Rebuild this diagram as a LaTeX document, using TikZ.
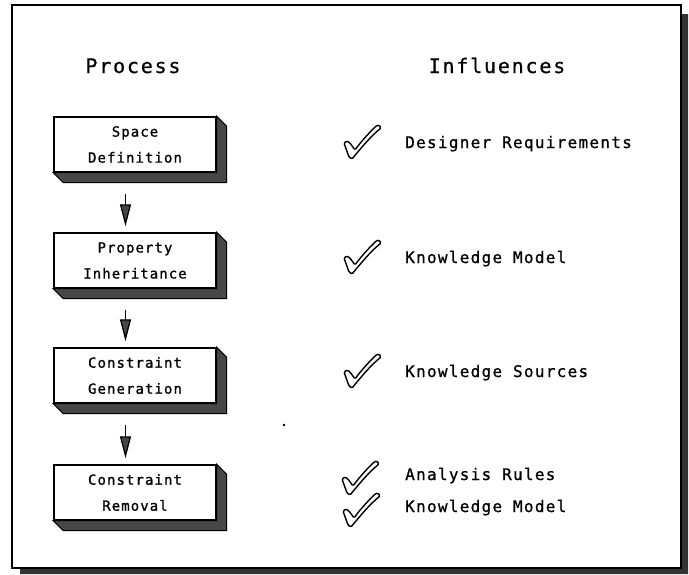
\documentclass[tikz,border=0pt]{standalone}
\usepackage{fontspec}
\usetikzlibrary{arrows.meta}
\newfontfamily\headfont[LetterSpace=9, FakeBold=0.6]{DejaVu Sans Mono}
\newfontfamily\infofont[LetterSpace=8, FakeBold=0.8]{DejaVu Sans Mono}
\newfontfamily\stepfont[LetterSpace=7.6, FakeBold=1]{DejaVu Sans Mono}

\tikzset{
  header/.style={anchor=base, inner sep=0pt,
    font=\headfont\fontsize{20}{20}\selectfont},
  influence/.style={anchor=base west, inner sep=0pt,
    font=\infofont\fontsize{16}{18}\selectfont},
  procbox/.style={draw=black, line width=1.4pt, fill=white,
    minimum width=162pt, minimum height=55pt, inner sep=0pt,
    align=center, font=\stepfont\fontsize{14}{26}\selectfont},
  boxshade/.style={draw=black, line width=1pt, fill=black!72},
  flow/.style={draw=black, line width=1.3pt,
    -{Triangle[length=22pt, width=11pt, fill=black!72]}},
  checkmark/.pic={
    \draw[line width=1.4pt, rounded corners=1.2pt, fill=white]
      (0,2) .. controls (10,-10) and (18,-20) .. (29,-29) -- (27,-32) -- (24,-31)
      .. controls (15,-22) and (8,-14) .. (3,-7)
      -- (-2,-14) -- (-5,-16) -- (-8,-14) -- (-3,0) -- cycle;
  }
}

\begin{document}
\begin{tikzpicture}[x=1pt, y=-1pt]
\useasboundingbox (0,0) rectangle (689,574);

% outer frame with its drop shadow
\fill[black!80] (681,14) -- (688,14) -- (688,574) -- (20,574) -- (20,568)
  -- (681,568) -- cycle;
\draw[line width=2.6pt, fill=white] (12,5) rectangle (681,568);

% column headings
\node[header] (hproc) at (133,73) {Process};
\node[header] (hinfl) at (497,73) {Influences};

% process steps
\node[procbox] (s1) at (135,144.5) {Space\\Definition};
\node[procbox] (s2) at (135,260.5) {Property\\Inheritance};
\node[procbox] (s3) at (135,375.5) {Constraint\\Generation};
\node[procbox] (s4) at (135,492.5) {Constraint\\Removal};

% extruded shading below and right of each step
\foreach \s in {s1,s2,s3,s4}{
  \path[boxshade] (\s.north east) -- ++(10,10)
    -- ([shift={(10,10)}]\s.south east)
    -- ([shift={(10,10)}]\s.south west)
    -- (\s.south west) -- (\s.south east) -- cycle;
}

% flow between the steps
\draw[flow] ([xshift=-9.5pt, yshift=-21pt]s1.south) -- ([xshift=-9.5pt, yshift=6pt]s2.north);
\draw[flow] ([xshift=-9.5pt, yshift=-21pt]s2.south) -- ([xshift=-9.5pt, yshift=6pt]s3.north);
\draw[flow] ([xshift=-9.5pt, yshift=-21pt]s3.south) -- ([xshift=-9.5pt, yshift=6pt]s4.north);

% influences, each with its tick
\node[influence] (i1) at (405,148) {Designer Requirements};
\node[influence] (i2) at (405,263) {Knowledge Model};
\node[influence] (i3) at (405,377) {Knowledge Sources};
\node[influence] (i4) at (405,480) {Analysis Rules};
\node[influence] (i5) at (405,512) {Knowledge Model};

\pic at (352,157) {checkmark};
\pic at (352,272) {checkmark};
\pic at (352,386) {checkmark};
\pic at (350,493) {checkmark};
\pic at (351,525) {checkmark};

% stray dot in the middle of the sheet
\fill (284,425) circle (1.3);
\end{tikzpicture}
\end{document}
